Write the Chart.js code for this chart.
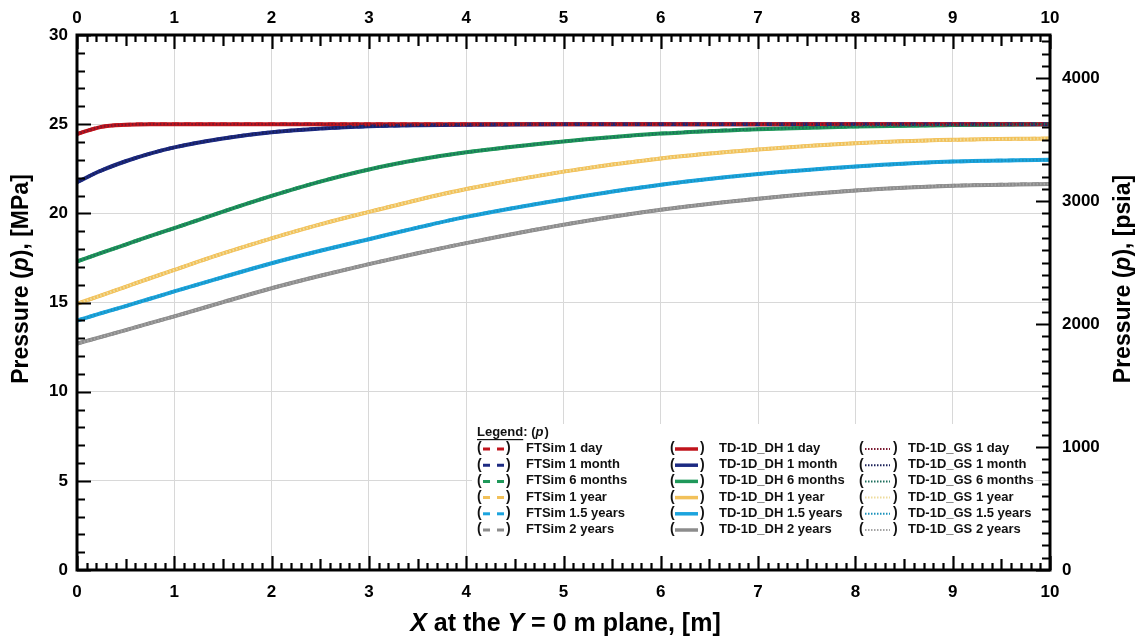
<!DOCTYPE html>
<html>
<head>
<meta charset="utf-8">
<title>Pressure profiles</title>
<script src="https://cdn.jsdelivr.net/npm/chart.js@4/dist/chart.umd.min.js"></script>
<style>
  html, body { margin: 0; padding: 0; background: #fff; }
  #wrap { width: 1141px; height: 643px; position: relative; }
</style>
</head>
<body>
<div id="wrap"><canvas id="pressureChart"></canvas></div>
<script>
// distance along X at Y = 0 m plane, [m]
const xPositions = [0, 0.25, 0.5, 0.75, 1, 1.5, 2, 2.5, 3, 3.5, 4, 5, 6, 7, 8, 9, 10];

// pressure, [MPa]
const p1Day    = [24.45, 24.85, 24.97, 25, 25, 25, 25, 25, 25, 25, 25, 25, 25, 25, 25, 25, 25];
const p1Month  = [21.75, 22.4, 22.92, 23.35, 23.7, 24.2, 24.55, 24.75, 24.88, 24.94, 24.97, 25, 25, 25, 25, 25, 25];
const p6Months = [17.3, 17.78, 18.25, 18.72, 19.17, 20.1, 20.98, 21.78, 22.46, 23.0, 23.42, 24.03, 24.47, 24.72, 24.87, 24.95, 25.0];
const p1Year   = [14.93, 15.4, 15.88, 16.36, 16.83, 17.75, 18.6, 19.38, 20.08, 20.75, 21.36, 22.34, 23.08, 23.58, 23.93, 24.12, 24.2];
const p15Years = [13.99, 14.4, 14.8, 15.21, 15.62, 16.42, 17.2, 17.9, 18.55, 19.2, 19.8, 20.78, 21.6, 22.2, 22.62, 22.9, 23.0];
const p2Years  = [12.69, 13.07, 13.45, 13.84, 14.22, 15.02, 15.8, 16.5, 17.15, 17.76, 18.33, 19.36, 20.2, 20.82, 21.28, 21.55, 21.65];

const timeLabels = ['1 day', '1 month', '6 months', '1 year', '1.5 years', '2 years'];
const profiles = [p1Day, p1Month, p6Months, p1Year, p15Years, p2Years];
const models = ['FTSim', 'TD-1D_DH', 'TD-1D_GS'];

const xTicks = [0, 1, 2, 3, 4, 5, 6, 7, 8, 9, 10];
const mpaTicks = [0, 5, 10, 15, 20, 25, 30];
const psiaTicks = [0, 1000, 2000, 3000, 4000];

const PSI_PER_MPA = 145.0377;

const lineColors = ['#c0141c', '#1c2a82', '#1f985a', '#f2c15a', '#1ca4de', '#8c8c8c'];
const dotColors  = ['#7a1830', '#1a2058', '#1d6e5c', '#eedc9c', '#1b92bc', '#a4a4a4'];

const FONT = "'Liberation Sans', Arial, sans-serif";

const datasets = [];
models.forEach((model, m) => {
  profiles.forEach((vals, t) => {
    const ds = {
      label: model + ' ' + timeLabels[t],
      data: xPositions.map((x, i) => ({ x: x, y: vals[i] })),
      borderColor: m === 2 ? dotColors[t] : lineColors[t],
      pointRadius: 0,
      fill: false,
      cubicInterpolationMode: 'monotone',
      xAxisID: 'x',
      yAxisID: 'y'
    };
    if (m === 0) { ds.borderWidth = 3.5; ds.borderDash = [7, 5]; ds.order = 1; }
    if (m === 1) { ds.borderWidth = 4; ds.order = 2; }
    if (m === 2) { ds.borderWidth = 2.4; ds.borderDash = [1.5, 2]; ds.order = 0; }
    datasets.push(ds);
  });
});

// draws a line of text made of plain / italic pieces, centred on cx
function drawRich(ctx, parts, cx, cy, size) {
  let total = 0;
  parts.forEach(p => {
    ctx.font = (p.it ? 'italic ' : '') + 'bold ' + size + 'px ' + FONT;
    p.w = ctx.measureText(p.t).width;
    total += p.w;
  });
  let x = cx - total / 2;
  ctx.textAlign = 'left';
  ctx.textBaseline = 'middle';
  ctx.fillStyle = '#000';
  parts.forEach(p => {
    ctx.font = (p.it ? 'italic ' : '') + 'bold ' + size + 'px ' + FONT;
    ctx.fillText(p.t, x, cy);
    x += p.w;
  });
}

const legendBox = {
  id: 'legendBox',
  afterDatasetsDraw(chart) {
    const ctx = chart.ctx;
    ctx.save();
    ctx.fillStyle = '#fff';
    ctx.fillRect(472, 424, 563, 142);

    // title
    ctx.textBaseline = 'middle';
    ctx.textAlign = 'left';
    ctx.fillStyle = '#111';
    ctx.font = 'bold 13px ' + FONT;
    const tx = 477, ty = 432;
    ctx.fillText('Legend', tx, ty);
    const lw = ctx.measureText('Legend').width;
    ctx.fillRect(tx, ty + 7, lw, 1.2);
    ctx.fillText(': (', tx + lw, ty);
    let x2 = tx + lw + ctx.measureText(': (').width;
    ctx.font = 'italic bold 13px ' + FONT;
    ctx.fillText('p', x2, ty);
    x2 += ctx.measureText('p').width;
    ctx.font = 'bold 13px ' + FONT;
    ctx.fillText(')', x2 + 1, ty);

    const cols = [
      { open: 477, l0: 483, l1: 504, close: 506, text: 526, dash: [7, 7], w: 3 },
      { open: 670, l0: 675, l1: 698, close: 700, text: 719, dash: [], w: 3.5 },
      { open: 859, l0: 865, l1: 890, close: 893, text: 908, dash: [1.5, 1.5], w: 2 }
    ];
    cols.forEach((c, m) => {
      timeLabels.forEach((lab, t) => {
        const y = 448.5 + t * 16.2;
        ctx.font = 'bold 14px ' + FONT;
        ctx.fillStyle = '#111';
        ctx.fillText('(', c.open, y);
        ctx.fillText(')', c.close, y);
        ctx.beginPath();
        ctx.setLineDash(c.dash);
        ctx.lineWidth = c.w;
        ctx.strokeStyle = m === 2 ? dotColors[t] : lineColors[t];
        ctx.moveTo(c.l0, y + 0.5);
        ctx.lineTo(c.l1, y + 0.5);
        ctx.stroke();
        ctx.setLineDash([]);
        ctx.font = 'bold 13px ' + FONT;
        ctx.fillStyle = '#111';
        ctx.fillText(models[m] + ' ' + lab, c.text, y);
      });
    });
    ctx.restore();
  }
};

const frameAndTitles = {
  id: 'frameAndTitles',
  afterDraw(chart) {
    const ctx = chart.ctx;
    const a = chart.chartArea;
    const sx = chart.scales.x, sy = chart.scales.y, sp = chart.scales.yPsia;
    ctx.save();
    ctx.strokeStyle = '#000';
    ctx.lineWidth = 2.2;
    ctx.beginPath();
    // x ticks, bottom and top, every 0.1 m
    for (let i = 0; i <= 100; i++) {
      const px = Math.round(sx.getPixelForValue(i / 10)) + 0.5;
      const len = i % 10 === 0 ? 14 : (i % 5 === 0 ? 11 : 7);
      ctx.moveTo(px, a.bottom); ctx.lineTo(px, a.bottom - len);
      ctx.moveTo(px, a.top); ctx.lineTo(px, a.top + len);
    }
    // MPa ticks, left
    for (let v = 0; v <= 30; v++) {
      const py = Math.round(sy.getPixelForValue(v)) + 0.5;
      const len = v % 5 === 0 ? 14 : 8;
      ctx.moveTo(a.left, py); ctx.lineTo(a.left + len, py);
    }
    // psia ticks, right
    for (let v = 0; v <= 4300; v += 100) {
      const py = Math.round(sp.getPixelForValue(v)) + 0.5;
      const len = v % 1000 === 0 ? 14 : 8;
      ctx.moveTo(a.right, py); ctx.lineTo(a.right - len, py);
    }
    ctx.stroke();
    ctx.lineWidth = 3;
    ctx.strokeRect(a.left, a.top, a.right - a.left, a.bottom - a.top);

    // axis titles
    drawRich(ctx, [{ t: 'X', it: true }, { t: ' at the ' }, { t: 'Y', it: true }, { t: ' = 0 m plane, [m]' }],
      (a.left + a.right) / 2 + 2, 624, 25);
    ctx.save();
    ctx.translate(22, 279);
    ctx.rotate(-Math.PI / 2);
    drawRich(ctx, [{ t: 'Pressure (' }, { t: 'p', it: true }, { t: '), [MPa]' }], 0, 0, 23);
    ctx.restore();
    ctx.save();
    ctx.translate(1124, 279);
    ctx.rotate(-Math.PI / 2);
    drawRich(ctx, [{ t: 'Pressure (' }, { t: 'p', it: true }, { t: '), [psia]' }], 0, 0, 23);
    ctx.restore();
    ctx.restore();
  }
};

const tickFont = { family: FONT, size: 17, weight: 'bold' };
const plainLabel = v => String(v);

new Chart(document.getElementById('pressureChart').getContext('2d'), {
  type: 'line',
  data: { datasets: datasets },
  options: {
    responsive: true,
    maintainAspectRatio: false,
    animation: false,
    layout: { padding: 0 },
    plugins: { legend: { display: false }, tooltip: { enabled: false } },
    scales: {
      x: {
        type: 'linear', position: 'bottom', min: 0, max: 10,
        afterBuildTicks: s => { s.ticks = xTicks.map(v => ({ value: v })); },
        ticks: { padding: 12, color: '#000', font: tickFont, maxRotation: 0, callback: plainLabel },
        grid: { color: '#d8d8d8', lineWidth: 1, drawTicks: false },
        border: { display: false },
        afterFit: s => { s.height = 73; }
      },
      xTop: {
        type: 'linear', position: 'top', min: 0, max: 10,
        afterBuildTicks: s => { s.ticks = xTicks.map(v => ({ value: v })); },
        ticks: { padding: 6, color: '#000', font: tickFont, maxRotation: 0, callback: plainLabel },
        grid: { display: false, drawTicks: false },
        border: { display: false },
        afterFit: s => { s.height = 35; }
      },
      y: {
        type: 'linear', position: 'left', min: 0, max: 30,
        afterBuildTicks: s => { s.ticks = mpaTicks.map(v => ({ value: v })); },
        ticks: { padding: 9, color: '#000', font: tickFont, callback: plainLabel },
        grid: { color: '#d8d8d8', lineWidth: 1, drawTicks: false },
        border: { display: false },
        afterFit: s => { s.width = 77; }
      },
      yPsia: {
        type: 'linear', position: 'right', min: 0, max: 30 * PSI_PER_MPA,
        afterBuildTicks: s => { s.ticks = psiaTicks.map(v => ({ value: v })); },
        ticks: { padding: 12, color: '#000', font: tickFont, callback: plainLabel },
        grid: { display: false, drawTicks: false },
        border: { display: false },
        afterFit: s => { s.width = 91; }
      }
    }
  },
  plugins: [legendBox, frameAndTitles]
});
</script>
</body>
</html>
